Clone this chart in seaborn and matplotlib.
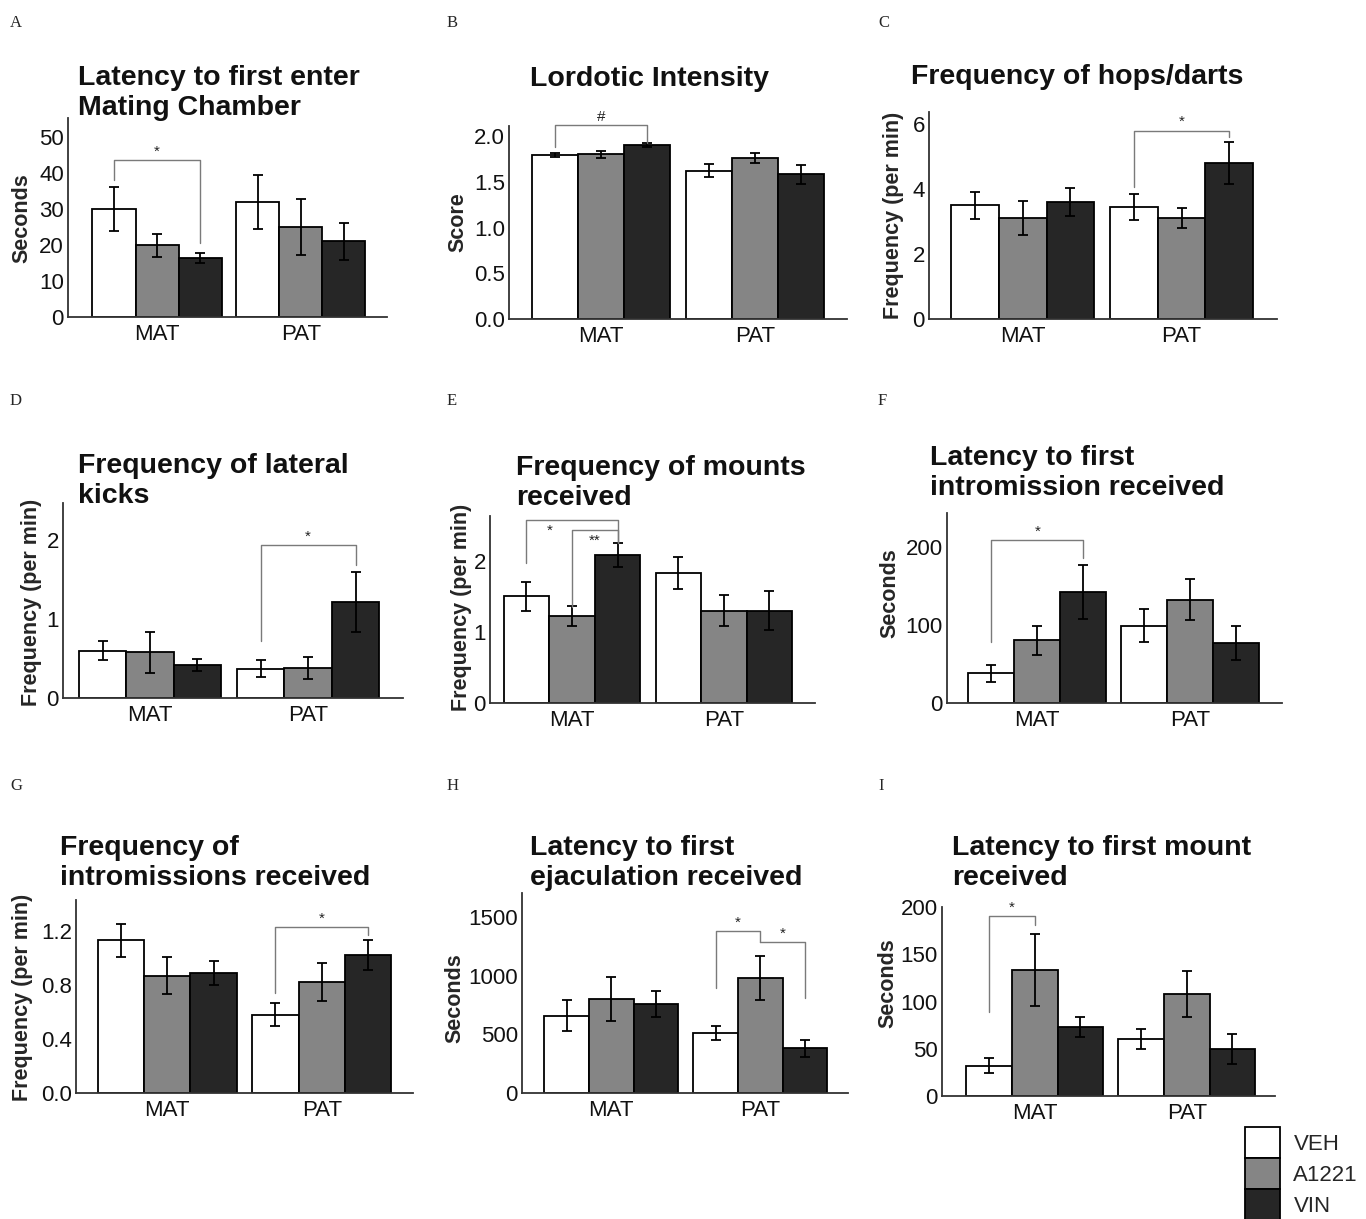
import numpy as np
import pandas as pd
import seaborn as sns
import matplotlib.pyplot as plt
from matplotlib.patches import Patch

groups = ['MAT', 'PAT']
treatments = ['VEH', 'A1221', 'VIN']
colors = ['#ffffff', '#858585', '#262626']

# rows: MAT, PAT ; columns: VEH, A1221, VIN
chamber_mean = [[30, 20, 16.5], [32, 25, 21]]
chamber_sem = [[6, 3.2, 1.4], [7.5, 7.7, 5.2]]
lordosis_mean = [[1.79, 1.80, 1.90], [1.62, 1.76, 1.58]]
lordosis_sem = [[0.02, 0.04, 0.02], [0.07, 0.05, 0.10]]
hops_mean = [[3.5, 3.1, 3.6], [3.45, 3.1, 4.8]]
hops_sem = [[0.42, 0.52, 0.43], [0.39, 0.31, 0.65]]
kicks_mean = [[0.60, 0.58, 0.42], [0.37, 0.38, 1.22]]
kicks_sem = [[0.12, 0.26, 0.08], [0.11, 0.14, 0.38]]
mounts_mean = [[1.50, 1.22, 2.08], [1.83, 1.30, 1.30]]
mounts_sem = [[0.20, 0.14, 0.17], [0.22, 0.22, 0.27]]
lat_intro_mean = [[38, 80, 142], [99, 132, 77]]
lat_intro_sem = [[11, 19, 34], [21, 26, 22]]
intro_mean = [[1.13, 0.87, 0.89], [0.58, 0.82, 1.02]]
intro_sem = [[0.12, 0.14, 0.09], [0.085, 0.14, 0.11]]
lat_ejac_mean = [[660, 800, 760], [510, 980, 380]]
lat_ejac_sem = [[135, 190, 110], [62, 185, 72]]
lat_mount_mean = [[32, 133, 73], [60, 108, 50]]
lat_mount_sem = [[8, 38, 10.5], [10.5, 24.5, 16]]

# significance brackets:
# (group, bar a, bar b, height, leg a end, leg b end, label, label centred between bars, below line)
chamber_sig = [(0, 0, 2, 43.5, 38, 20.5, '*', (0, 2), False)]
lordosis_sig = [(0, 0, 2, 2.12, 1.88, 1.92, '#', (0, 2), False)]
hops_sig = [(1, 0, 2, 5.8, 4.07, 5.6, '*', (0, 2), False)]
kicks_sig = [(1, 0, 2, 1.94, 0.72, 1.68, '*', (0, 2), False)]
mounts_sig = [(0, 0, 2, 2.58, 1.97, 2.25, '*', (0, 1), True),
              (0, 1, 2, 2.44, 1.35, 2.25, '**', (1, 2), True)]
lat_intro_sig = [(0, 0, 2, 208, 78, 186, '*', (0, 2), False)]
intro_sig = [(1, 0, 2, 1.23, 0.74, 1.17, '*', (0, 2), False)]
lat_ejac_sig = [(1, 0, 1, 1380, 895, 1286, '*', (0, 1), False),
                (1, 1, 2, 1286, 1286, 810, '*', (1, 2), False)]
lat_mount_sig = [(0, 0, 1, 190, 89, 181, '*', (0, 1), False)]

W, H = 1366, 1219

sns.set_style('white')
plt.rcParams['font.family'] = ['Liberation Sans', 'DejaVu Sans']

# letter, title, title xy, ylabel, ylabel xy, axes box (l, r, bottom, top) px, ylim, yticks, xlim, data
panels = [
    ('A', 'Latency to first enter\nMating Chamber', (78, 65), 'Seconds', (22, 218),
     (68, 387, 317, 118), 55.3, [0, 10, 20, 30, 40, 50], (-0.62, 1.6),
     chamber_mean, chamber_sem, chamber_sig, '{:.0f}'),
    ('B', 'Lordotic Intensity', (530, 66), 'Score', (458, 222),
     (509, 847, 319, 126), 2.11, [0, 0.5, 1.0, 1.5, 2.0], (-0.6, 1.6),
     lordosis_mean, lordosis_sem, lordosis_sig, '{:.1f}'),
    ('C', 'Frequency of hops/darts', (911, 64), 'Frequency (per min)', (893, 215),
     (929, 1277, 319, 112), 6.37, [0, 2, 4, 6], (-0.59, 1.6),
     hops_mean, hops_sem, hops_sig, '{:.0f}'),
    ('D', 'Frequency of lateral\nkicks', (78, 453), 'Frequency (per min)', (32, 602),
     (63, 403, 698, 503), 2.47, [0, 1, 2], (-0.55, 1.6),
     kicks_mean, kicks_sem, kicks_sig, '{:.0f}'),
    ('E', 'Frequency of mounts\nreceived', (516, 455), 'Frequency (per min)', (462, 607),
     (490, 815, 703, 516), 2.63, [0, 1, 2], (-0.54, 1.6),
     mounts_mean, mounts_sem, mounts_sig, '{:.0f}'),
    ('F', 'Latency to first\nintromission received', (930, 445), 'Seconds', (890, 593),
     (947, 1282, 703, 513), 243, [0, 100, 200], (-0.59, 1.6),
     lat_intro_mean, lat_intro_sem, lat_intro_sig, '{:.0f}'),
    ('G', 'Frequency of\nintromissions received', (60, 835), 'Frequency (per min)', (23, 997),
     (76, 413, 1093, 900), 1.43, [0, 0.4, 0.8, 1.2], (-0.59, 1.59),
     intro_mean, intro_sem, intro_sig, '{:.1f}'),
    ('H', 'Latency to first\nejaculation received', (530, 835), 'Seconds', (455, 998),
     (522, 848, 1093, 893), 1704, [0, 500, 1000, 1500], (-0.6, 1.59),
     lat_ejac_mean, lat_ejac_sem, lat_ejac_sig, '{:.0f}'),
    ('I', 'Latency to first mount\nreceived', (952, 835), 'Seconds', (888, 983),
     (942, 1275, 1096, 907), 200, [0, 50, 100, 150, 200], (-0.61, 1.58),
     lat_mount_mean, lat_mount_sem, lat_mount_sig, '{:.0f}'),
]

letter_xy = {'A': (10, 15), 'B': (447, 15), 'C': (878, 15),
             'D': (10, 393), 'E': (447, 393), 'F': (878, 393),
             'G': (10, 778), 'H': (447, 778), 'I': (878, 778)}

fig = plt.figure(figsize=(W / 100, H / 100), dpi=100)

for (letter, title, txy, ylab, lxy, box, ytop, yticks, xlim,
     means, sems, sigs, fmt) in panels:
    l, r, b, t = box
    ax = fig.add_axes([l / W, 1 - b / H, (r - l) / W, (b - t) / H])

    df = pd.DataFrame({
        'group': np.repeat(groups, len(treatments)),
        'treatment': treatments * len(groups),
        'value': np.ravel(means),
        'sem': np.ravel(sems),
    })
    sns.barplot(data=df, x='group', y='value', hue='treatment', hue_order=treatments,
                palette=colors, saturation=1, width=0.9, errorbar=None,
                edgecolor='black', linewidth=1.3, legend=False, ax=ax)

    # bar centres from the drawn bars: centers[hue][group]
    bar_conts = list(ax.containers)
    centers = []
    for j, cont in enumerate(bar_conts):
        xs = [p.get_x() + p.get_width() / 2 for p in cont.patches]
        hs = [p.get_height() for p in cont.patches]
        centers.append(xs)
        err = df[df['treatment'] == treatments[j]]['sem'].values
        ax.errorbar(xs, hs, yerr=err, fmt='none', ecolor='black',
                    elinewidth=1.3, capsize=3.8, capthick=1.3, zorder=5)

    for g, a, c, y, ya, yc, lab, span, below in sigs:
        xa, xc = centers[a][g], centers[c][g]
        ax.plot([xa, xa, xc, xc], [ya, y, y, yc], color='#7a7a7a', lw=1.0,
                clip_on=False, zorder=6)
        xm = (centers[span[0]][g] + centers[span[1]][g]) / 2
        if below:
            ax.annotate(lab, (xm, y), xytext=(0, -3), textcoords='offset points',
                        ha='center', va='top', fontsize=11, color='#222222',
                        annotation_clip=False)
        else:
            ax.annotate(lab, (xm, y), xytext=(0, 1), textcoords='offset points',
                        ha='center', va='bottom', fontsize=11, color='#222222',
                        annotation_clip=False)

    ax.set_ylim(0, ytop)
    ax.set_xlim(*xlim)
    ax.set_yticks(yticks)
    ax.set_yticklabels([fmt.format(v) for v in yticks])
    ax.set_xlabel('')
    ax.tick_params(axis='both', length=0, labelsize=16, colors='#111111')
    ax.tick_params(axis='y', pad=3)
    ax.tick_params(axis='x', pad=5)
    sns.despine(ax=ax)
    for s in ['left', 'bottom']:
        ax.spines[s].set_linewidth(1.3)
        ax.spines[s].set_color('#333333')

    ax.set_ylabel(ylab, fontsize=15.5, fontweight='bold', va='center', ha='center')
    ax.yaxis.set_label_coords((lxy[0] - l) / (r - l), (b - lxy[1]) / (b - t))

    fig.text(txy[0] / W, 1 - txy[1] / H, title, ha='left', va='top',
             fontsize=20.5, fontweight='bold', linespacing=1.2, color='#111111')
    lx, ly = letter_xy[letter]
    fig.text(lx / W, 1 - ly / H, letter, ha='left', va='top', fontsize=12,
             family=['Liberation Serif', 'DejaVu Serif'])

handles = [Patch(facecolor=c, edgecolor='black', lw=1.3) for c in colors]
fig.legend(handles, treatments, loc='upper left',
           bbox_to_anchor=(1245 / W, 1 - 1127 / H), frameon=False, fontsize=16,
           handlelength=1.58, handleheight=1.77, labelspacing=0,
           handletextpad=0.6, borderpad=0, borderaxespad=0)

fig.savefig('out.png', dpi=100)
